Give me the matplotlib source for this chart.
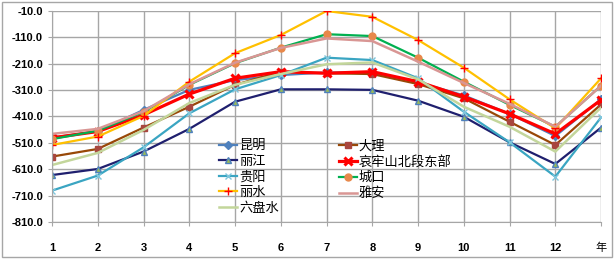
import matplotlib.pyplot as plt
import numpy as np

plt.rcParams['font.family'] = ['Liberation Sans', 'Noto Sans CJK SC', 'DejaVu Sans']

months = ['1', '2', '3', '4', '5', '6', '7', '8', '9', '10', '11', '12', '年']

kunming = [-490, -466, -385, -309, -272, -253, -243, -243, -280, -330, -400, -484, -345]
dali = [-562, -533, -452, -373, -290, -240, -246, -249, -287, -341, -430, -518, -364]
lijiang = [-632, -609, -543, -457, -354, -307, -307, -309, -350, -411, -508, -590, -452]
ailao = [-491, -467, -404, -325, -265, -240, -246, -240, -278, -335, -400, -476, -347]
guiyang = [-691, -634, -527, -398, -307, -253, -187, -196, -265, -392, -508, -638, -413]
chengkou = [-496, -464, -393, -290, -208, -149, -98, -105, -187, -278, -366, -449, -293]
lishui = [-518, -486, -408, -278, -170, -101, -10, -32, -120, -225, -345, -455, -265]
yaan = [-476, -457, -390, -288, -206, -150, -114, -124, -202, -283, -362, -449, -293]
liupanshui = [-594, -548, -461, -359, -290, -249, -212, -205, -269, -373, -449, -543, -376]

x = np.arange(len(months))

fig = plt.figure(figsize=(6.14, 2.59), dpi=100)
ax = fig.add_axes([0.0847, 0.1429, 0.8943, 0.8146])

# 绘制顺序同原图（后画的在上面）
h_km, = ax.plot(x, kunming, color='#4F81BD', lw=1.6, marker='D', ms=4, mfc='#4F81BD', mec='#4F81BD', label='昆明')
h_dl, = ax.plot(x, dali, color='#984807', lw=1.6, marker='s', ms=5, mfc='#A8463E', mec='#A8463E', label='大理')
h_lj, = ax.plot(x, lijiang, color='#1F1F6E', lw=1.6, marker='^', ms=5, mfc='#9BBB59', mec='#4F81BD', label='丽江')
h_al, = ax.plot(x, ailao, color='#FF0000', lw=2.3, marker='x', ms=6, mew=2.2, mec='#FF0000', label='哀牢山北段东部')
h_gy, = ax.plot(x, guiyang, color='#3AA5C2', lw=1.6, marker='x', ms=5, mew=1.0, mec='#7FC6DC', label='贵阳')
h_ck, = ax.plot(x, chengkou, color='#00B050', lw=1.6, marker='o', ms=5, mfc='#E8884A', mec='#E8884A', label='城口')
h_ls, = ax.plot(x, lishui, color='#FFC000', lw=1.6, marker='+', ms=6, mew=1.0, mec='#FF0000', label='丽水')
h_ya, = ax.plot(x, yaan, color='#D99694', lw=1.8, label='雅安')
h_lp, = ax.plot(x, liupanshui, color='#C3D69B', lw=1.8, label='六盘水')

ax.set_xlim(0, len(months) - 1)
ax.set_ylim(-810, -10)
ax.set_yticks(np.arange(-810, 0, 100))
ax.set_yticklabels([f'{v:.1f}' for v in np.arange(-810, 0, 100)])
ax.set_xticks(x)
ax.set_xticklabels(months)
ax.grid(True, color='#A6A6A6', lw=1.0)
ax.set_axisbelow(True)
for s in ax.spines.values():
    s.set_color('#A6A6A6')
ax.spines['top'].set_visible(False)
ax.spines['right'].set_visible(False)
ax.tick_params(axis='both', length=3, color='#A6A6A6', labelsize=8)
ax.tick_params(axis='x', pad=12)
for t in ax.get_xticklabels() + ax.get_yticklabels():
    t.set_fontweight('bold')
    if t.get_text() == '年':
        t.set_fontweight('normal')

handles = [h_km, h_lj, h_gy, h_ls, h_lp, h_dl, h_al, h_ck, h_ya]
leg = ax.legend(handles=handles, ncol=2, loc='upper left', bbox_to_anchor=(0.292, 0.42),
                frameon=False, fontsize=9.5, handlelength=1.4, handletextpad=0.15,
                labelspacing=0.25, columnspacing=4.5, borderpad=0)

# 外边框
fig.patches.append(plt.Rectangle((0.003, 0.006), 0.994, 0.988, transform=fig.transFigure,
                                 fill=False, edgecolor='#A6A6A6', lw=1.0))

fig.savefig('out.png', dpi=100)
